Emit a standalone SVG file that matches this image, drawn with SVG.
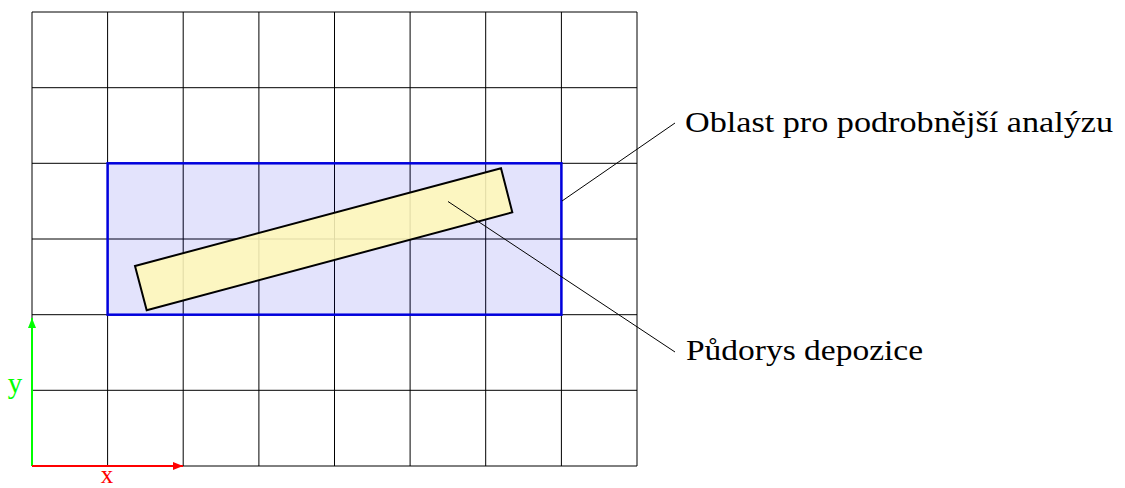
<svg xmlns="http://www.w3.org/2000/svg" width="1125" height="488" viewBox="0 0 1125 488">
<style>
.grid line{stroke:#000;stroke-width:1}
.lbl{font-family:"Liberation Serif","Times New Roman",serif;font-size:29px;fill:#000}
.leader{stroke:#000;stroke-width:1;fill:none}
</style>
<defs>
<marker id="ag" viewBox="0 0 10 8" refX="10" refY="4" markerWidth="10" markerHeight="8" markerUnits="userSpaceOnUse" orient="auto"><path d="M0,0 L10,4 L0,8 Z" fill="#00ff00"/></marker>
<marker id="ar" viewBox="0 0 10 8" refX="10" refY="4" markerWidth="10" markerHeight="8" markerUnits="userSpaceOnUse" orient="auto"><path d="M0,0 L10,4 L0,8 Z" fill="#ff0000"/></marker>
</defs>
<rect width="1125" height="488" fill="#fff"/>
<g id="grid" class="grid">
<line x1="32" y1="12" x2="32" y2="466"/>
<line x1="107.6" y1="12" x2="107.6" y2="466"/>
<line x1="183.2" y1="12" x2="183.2" y2="466"/>
<line x1="258.9" y1="12" x2="258.9" y2="466"/>
<line x1="334.5" y1="12" x2="334.5" y2="466"/>
<line x1="410.1" y1="12" x2="410.1" y2="466"/>
<line x1="485.7" y1="12" x2="485.7" y2="466"/>
<line x1="561.4" y1="12" x2="561.4" y2="466"/>
<line x1="637" y1="12" x2="637" y2="466"/>
<line x1="32" y1="12" x2="637" y2="12"/>
<line x1="32" y1="87.7" x2="637" y2="87.7"/>
<line x1="32" y1="163.3" x2="637" y2="163.3"/>
<line x1="32" y1="239" x2="637" y2="239"/>
<line x1="32" y1="314.7" x2="637" y2="314.7"/>
<line x1="32" y1="390.3" x2="637" y2="390.3"/>
<line x1="32" y1="466" x2="637" y2="466"/>
</g>
<g id="region">
<rect x="107.6" y="163.3" width="453.8" height="151.4" fill="#0000e0" fill-opacity="0.11" stroke="#0000dd" stroke-width="2.5"/>
</g>
<g id="footprint">
<polygon points="135,266 501,168.3 512.3,212.3 146.7,310.3" fill="#fff8b8" fill-opacity="0.88" stroke="#000" stroke-width="2"/>
</g>
<g id="connectors">
<line class="leader" x1="562" y1="201" x2="675" y2="123"/>
<line class="leader" x1="448" y1="201.5" x2="675" y2="352"/>
<line x1="32" y1="466" x2="32" y2="318" stroke="#00ff00" stroke-width="2" marker-end="url(#ag)"/>
<line x1="32" y1="466" x2="183" y2="466" stroke="#ff0000" stroke-width="2" marker-end="url(#ar)"/>
</g>
<g id="label-oblast"><text class="lbl" x="685" y="132" textLength="428" lengthAdjust="spacingAndGlyphs">Oblast pro podrobnější analýzu</text></g>
<g id="label-pudorys"><text class="lbl" x="686" y="360" textLength="237" lengthAdjust="spacingAndGlyphs">Půdorys depozice</text></g>
<g id="label-y"><text class="lbl" x="15" y="393" text-anchor="middle" style="fill:#00ff00">y</text></g>
<g id="label-x"><text class="lbl" x="107" y="483" text-anchor="middle" style="fill:#ff0000;font-size:25px">x</text></g>
</svg>
